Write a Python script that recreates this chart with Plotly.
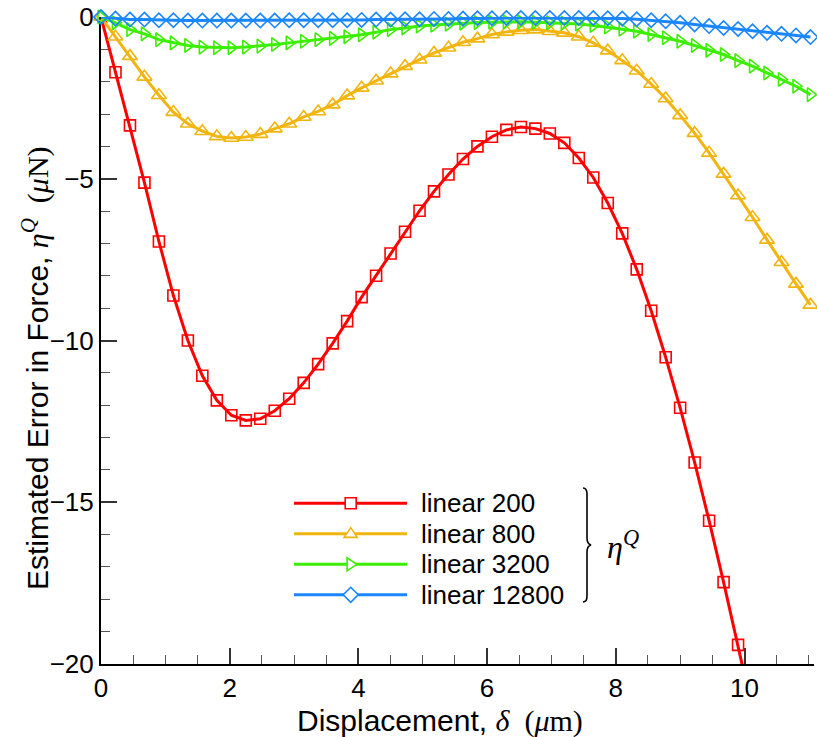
import plotly.graph_objects as go

# ---------------- data ----------------
delta = [0.0, 0.225, 0.45, 0.675, 0.9, 1.125, 1.35, 1.575, 1.8, 2.025,
         2.25, 2.475, 2.7, 2.925, 3.15, 3.375, 3.6, 3.825, 4.05, 4.275,
         4.5, 4.725, 4.95, 5.175, 5.4, 5.625, 5.85, 6.075, 6.3, 6.525,
         6.75, 6.975, 7.2, 7.425, 7.65, 7.875, 8.1, 8.325, 8.55, 8.775,
         9.0, 9.225, 9.45, 9.675, 9.9, 10.125, 10.35, 10.575, 10.8, 11.025]

err_200 = [0.0, -1.71, -3.35, -5.12, -6.94, -8.61, -10.0, -11.09, -11.85, -12.31,
           -12.47, -12.42, -12.17, -11.80, -11.31, -10.73, -10.09, -9.40, -8.66, -8.00,
           -7.31, -6.64, -5.99, -5.39, -4.87, -4.39, -4.00, -3.70, -3.49, -3.40,
           -3.45, -3.60, -3.89, -4.36, -4.96, -5.75, -6.69, -7.80, -9.08, -10.52,
           -12.08, -13.77, -15.57, -17.47, -19.41, -21.45]

err_800 = [0.0, -0.61, -1.21, -1.85, -2.42, -2.94, -3.30, -3.53, -3.69, -3.74,
           -3.71, -3.62, -3.45, -3.30, -3.09, -2.92, -2.71, -2.43, -2.19, -1.97,
           -1.75, -1.52, -1.32, -1.11, -0.95, -0.78, -0.67, -0.54, -0.46, -0.41,
           -0.39, -0.44, -0.49, -0.61, -0.80, -1.04, -1.34, -1.66, -2.07, -2.52,
           -3.04, -3.59, -4.20, -4.85, -5.52, -6.19, -6.89, -7.58, -8.25, -8.90]

err_3200 = [0.0, -0.18, -0.39, -0.52, -0.70, -0.80, -0.88, -0.93, -0.95, -0.95,
            -0.93, -0.90, -0.85, -0.80, -0.75, -0.70, -0.66, -0.61, -0.55, -0.47,
            -0.39, -0.34, -0.28, -0.25, -0.22, -0.19, -0.17, -0.16, -0.15, -0.15,
            -0.16, -0.18, -0.19, -0.22, -0.26, -0.31, -0.38, -0.44, -0.54, -0.64,
            -0.75, -0.88, -1.03, -1.16, -1.35, -1.52, -1.73, -1.93, -2.14, -2.40]

err_12800 = [0.0, -0.05, -0.08, -0.08, -0.10, -0.10, -0.11, -0.11, -0.11, -0.11,
             -0.11, -0.11, -0.11, -0.10, -0.10, -0.10, -0.10, -0.10, -0.09, -0.08,
             -0.08, -0.07, -0.07, -0.06, -0.06, -0.05, -0.04, -0.04, -0.03, -0.03,
             -0.03, -0.03, -0.03, -0.03, -0.03, -0.04, -0.05, -0.07, -0.10, -0.13,
             -0.18, -0.23, -0.28, -0.34, -0.37, -0.44, -0.49, -0.52, -0.57, -0.62]

series_names = ["linear 200", "linear 800", "linear 3200", "linear 12800"]
series_values = [err_200, err_800, err_3200, err_12800]
series_colors = ["#FF0000", "#F2B50F", "#3CEE00", "#1A86FF"]
series_symbols = ["square-open", "triangle-up-open", "triangle-right-open", "diamond-open"]
series_sizes = [11, 13, 12, 11]

x_ticks = [0, 2, 4, 6, 8, 10]
y_ticks = [0, -5, -10, -15, -20]

# ---------------- figure ----------------
W, H = 817, 737
ML, MR, MT, MB = 101, 3, 17, 73
plot_w = W - ML - MR
plot_h = H - MT - MB

def px_x(p):
    return (p - ML) / plot_w

def px_y(p):
    return (H - MB - p) / plot_h

fig = go.Figure()
for name, vals, col, sym, sz in zip(series_names, series_values, series_colors,
                                    series_symbols, series_sizes):
    fig.add_trace(go.Scatter(
        x=delta[:len(vals)], y=vals, name=name, mode="lines+markers",
        line=dict(color=col, width=3),
        marker=dict(symbol=sym, size=sz, color=col,
                    line=dict(color=col, width=1.6)),
        cliponaxis=(name == "linear 200"),
        showlegend=False,
    ))

sans = "Liberation Sans, Arial, sans-serif"
serif = "Liberation Serif, DejaVu Serif, serif"

axis_common = dict(
    showline=True, linecolor="black", linewidth=2,
    ticks="inside", ticklen=16, tickwidth=1.5, tickcolor="#333",
    showgrid=False, zeroline=False, layer="below traces",
    tickfont=dict(family=sans, size=26, color="black"),
)
fig.update_xaxes(range=[0, 11.08], tickvals=x_ticks,
                 minor=dict(ticks="inside", dtick=0.5, ticklen=9, tickwidth=1.2,
                            tickcolor="#555", showgrid=False),
                 **axis_common)
fig.update_yaxes(range=[-20, 0], tickvals=y_ticks,
                 minor=dict(ticks="inside", dtick=1, ticklen=9, tickwidth=1.2,
                            tickcolor="#555", showgrid=False),
                 **axis_common)

annotations = []
# axis titles
annotations.append(dict(
    x=px_x(440), y=px_y(721), xref="paper", yref="paper", showarrow=False,
    xanchor="center", yanchor="middle",
    text=("Displacement, <span style=\"font-family:Liberation Serif\"><i>δ</i>"
          "\u00a0\u00a0(<i>μ</i>m)</span>"),
    font=dict(family=sans, size=30, color="black"),
))
annotations.append(dict(
    x=px_x(36), y=px_y(368), xref="paper", yref="paper", showarrow=False,
    xanchor="center", yanchor="middle", textangle=-90,
    text=("Estimated Error in Force, <span style=\"font-family:Liberation Serif\">"
          "<i>η</i><sup><i>Q</i></sup>\u00a0\u00a0(<i>μ</i>N)</span>"),
    font=dict(family=sans, size=30, color="black"),
))

# custom legend
shapes = []
row_y = [503.3, 533.8, 564.3, 594.8]
line_x0, line_x1, mark_x, text_x = 294, 407, 350.7, 419
half = 5.5
tri = 6.5
marker_paths = [
    f"M{-half},{-half} L{half},{-half} L{half},{half} L{-half},{half} Z",
    f"M{-tri},{-tri*0.55} L{tri},{-tri*0.55} L0,{tri*0.95} Z",
    f"M{-tri*0.55},{-tri} L{-tri*0.55},{tri} L{tri*0.95},0 Z",
    "M0,7.5 L7.5,0 L0,-7.5 L-7.5,0 Z",
]
for name, col, ry, mp in zip(series_names, series_colors, row_y, marker_paths):
    shapes.append(dict(type="line", xref="paper", yref="paper",
                       x0=px_x(line_x0), x1=px_x(line_x1), y0=px_y(ry), y1=px_y(ry),
                       line=dict(color=col, width=3)))
    shapes.append(dict(type="path", xref="paper", yref="paper",
                       xsizemode="pixel", ysizemode="pixel",
                       xanchor=px_x(mark_x), yanchor=px_y(ry), path=mp,
                       fillcolor="white", line=dict(color=col, width=1.6)))
    annotations.append(dict(
        x=px_x(text_x), y=px_y(ry), xref="paper", yref="paper", showarrow=False,
        xanchor="left", yanchor="middle", text=name,
        font=dict(family=sans, size=26, color="black"),
    ))

# brace and eta^Q label
shapes.append(dict(
    type="path", xref="paper", yref="paper", xsizemode="pixel", ysizemode="pixel",
    xanchor=px_x(586), yanchor=px_y(545),
    path=("M-3,57 Q1,57 1,51 L1,7 Q1,1 5,0 Q1,-1 1,-7 L1,-51 Q1,-57 -3,-57"),
    line=dict(color="black", width=1.6),
))
annotations.append(dict(
    x=px_x(605), y=px_y(545), xref="paper", yref="paper", showarrow=False,
    xanchor="left", yanchor="middle",
    text="<i>η</i><sup><i>Q</i></sup>",
    font=dict(family=serif, size=32, color="black"),
))

fig.update_layout(
    width=W, height=H,
    margin=dict(l=ML, r=MR, t=MT, b=MB),
    paper_bgcolor="white", plot_bgcolor="white",
    showlegend=False,
    shapes=shapes, annotations=annotations,
)

fig.write_html("out.html")
